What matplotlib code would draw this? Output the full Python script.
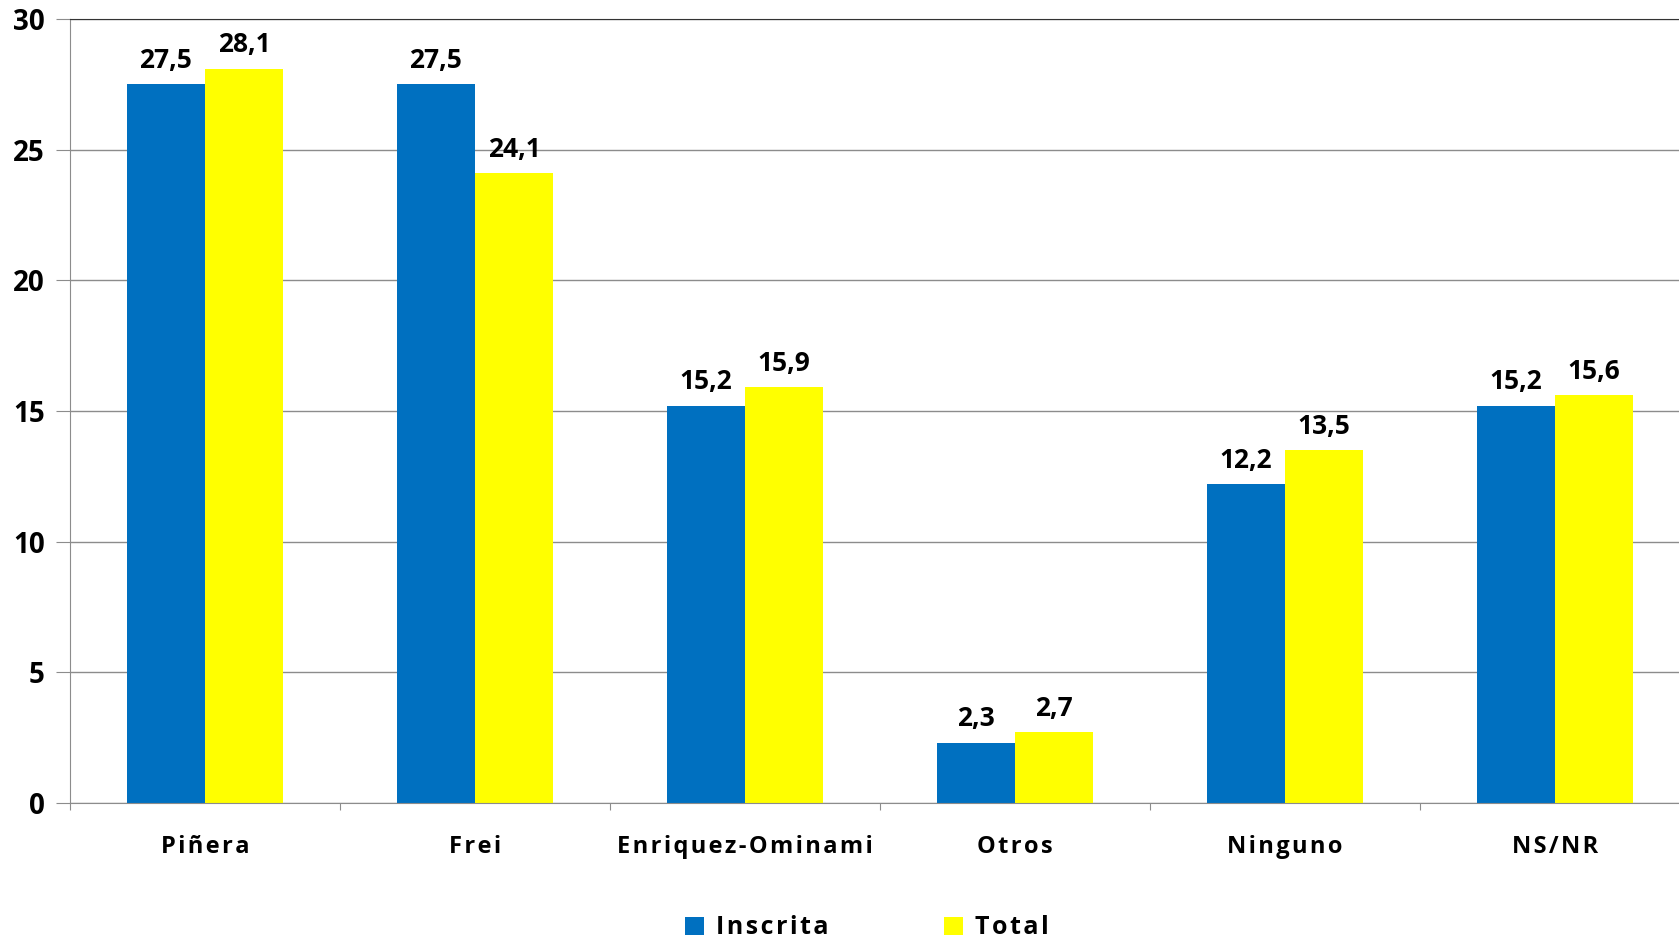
import matplotlib
matplotlib.use("Agg")
import matplotlib.pyplot as plt
import numpy as np
from matplotlib.transforms import blended_transform_factory

# --- data -------------------------------------------------------------
CATEGORIES = ["Piñera", "Frei", "Enriquez-Ominami", "Otros", "Ninguno", "NS/NR"]
INSCRITA = [27.5, 27.5, 15.2, 2.3, 12.2, 15.2]
TOTAL = [28.1, 24.1, 15.9, 2.7, 13.5, 15.6]
SERIES = ["Inscrita", "Total"]
YTICKS = [0, 5, 10, 15, 20, 25, 30]

BLUE = "#0070C0"
YELLOW = "#FFFF00"
FONT = ["Open Sans", "DejaVu Sans"]
GAP = "\u200a"


def spaced(s):
    """Imitate the wide letter spacing of the original labels."""
    return GAP.join(s)


def fmt(v):
    return f"{v:.1f}".replace(".", ",")


plt.rcParams["font.family"] = FONT
plt.rcParams["font.weight"] = "bold"

W, H = 1679, 941
fig = plt.figure(figsize=(W / 100, H / 100), dpi=100)
ax = fig.add_axes([70 / W, 1 - 803 / H, 1620 / W, (803 - 19) / H])

x = np.arange(len(CATEGORIES))
bw = 0.29
b1 = ax.bar(x - bw / 2, INSCRITA, bw, color=BLUE, label=SERIES[0], zorder=2)
b2 = ax.bar(x + bw / 2, TOTAL, bw, color=YELLOW, label=SERIES[1], zorder=2)

for bars, vals in ((b1, INSCRITA), (b2, TOTAL)):
    for r, v in zip(bars, vals):
        ax.annotate(fmt(v), (r.get_x() + r.get_width() / 2, r.get_height()),
                    xytext=(0, 12), textcoords="offset points",
                    ha="center", va="baseline", fontsize=19, fontweight="bold")

ax.set_xlim(-0.5, len(CATEGORIES) - 0.5)
ax.set_ylim(0, 30)
ax.set_yticks(YTICKS)
ax.set_yticklabels([str(t) for t in YTICKS], fontsize=20, fontweight="bold")
ax.yaxis.grid(True, color="#8c8c8c", linewidth=1, zorder=0)
ax.set_axisbelow(True)

ax.set_xticks(np.arange(len(CATEGORIES) + 1) - 0.5)
ax.set_xticklabels([])
ax.tick_params(axis="x", length=5, color="#8c8c8c", direction="out")
ax.tick_params(axis="y", length=10, color="#8c8c8c", pad=8)

for side in ("left", "bottom"):
    ax.spines[side].set_color("#8c8c8c")
ax.spines["right"].set_visible(False)
ax.spines["top"].set_color("#333333")

trans = blended_transform_factory(ax.transData, ax.transAxes)
for xi, name in zip(x, CATEGORIES):
    ax.text(xi, -0.056, spaced(name), transform=trans, ha="center", va="center",
            fontsize=17, fontweight="bold")

leg = fig.legend(handles=[b1, b2], labels=[spaced(s) for s in SERIES],
                 loc="center", bbox_to_anchor=(867 / W, 1 - 928 / H), ncol=2,
                 frameon=False, fontsize=18, handlelength=0.75, handleheight=0.75,
                 handletextpad=0.5, columnspacing=4.6)

fig.savefig("out.png", dpi=100)
